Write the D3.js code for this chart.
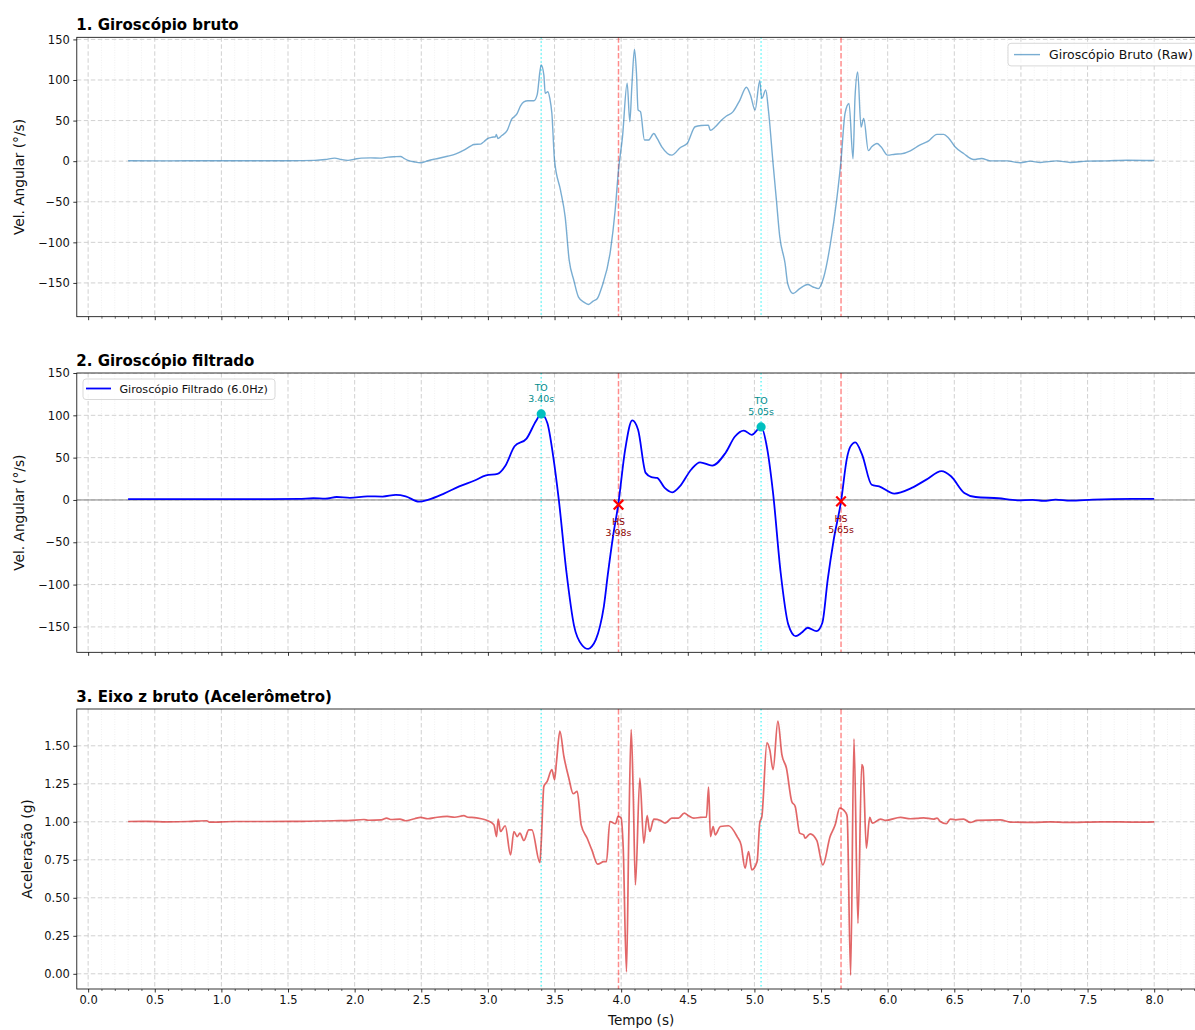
<!DOCTYPE html>
<html>
<head>
<meta charset="utf-8">
<script src="https://cdn.jsdelivr.net/npm/d3@7"></script>
<style>
  body { margin: 0; background: #fff; }
  svg { display: block; font-family: "DejaVu Sans", sans-serif; }
</style>
</head>
<body>
<svg id="chart" width="1195" height="1030"></svg>
<script>
// ---- Raw gyroscope (°/s) ----
const rawTime = [0.30,0.60,0.90,1.20,1.50,1.70,1.78,1.85,1.90,1.95,2.00,2.05,2.12,2.19,2.25,2.30,2.345,2.37,2.40,2.45,2.495,2.55,2.60,2.695,2.76,2.82,2.87,2.895,2.945,2.97,3.00,3.03,3.057,3.063,3.075,3.10,3.145,3.18,3.20,3.22,3.245,3.27,3.30,3.345,3.37,3.39,3.40,3.42,3.43,3.45,3.465,3.48,3.50,3.545,3.58,3.61,3.645,3.68,3.72,3.755,3.79,3.82,3.855,3.92,3.955,3.98,4.01,4.045,4.065,4.08,4.10,4.115,4.127,4.145,4.175,4.205,4.245,4.27,4.305,4.38,4.445,4.495,4.555,4.60,4.655,4.668,4.705,4.75,4.79,4.84,4.89,4.94,4.97,5.005,5.04,5.055,5.085,5.105,5.14,5.165,5.19,5.23,5.25,5.29,5.34,5.40,5.44,5.48,5.52,5.57,5.62,5.65,5.68,5.71,5.74,5.755,5.775,5.80,5.82,5.855,5.88,5.92,5.95,6.00,6.055,6.10,6.17,6.24,6.305,6.37,6.42,6.455,6.505,6.57,6.645,6.705,6.77,6.895,6.995,7.07,7.145,7.27,7.37,7.495,7.645,7.795,8.00];
const rawGyro = [0.5,0.4,0.6,0.5,0.6,1.0,2.0,3.8,2.0,1.0,2.5,3.8,4.0,3.7,5.0,5.5,5.8,3.5,1.0,-1.0,-2.0,0.5,2.5,6,9,13.5,18.5,20.6,21,24,28,29.5,30,33,28,31,38,52,55,59,68,73,74.5,74.5,82,110,118.5,106,83.5,85.6,77,59,1,-36,-69,-122,-147,-167.5,-173.7,-176.5,-172.4,-169.5,-155,-110,-60.5,-11,30,96,48.6,91.8,138,108,63,61,26,26,34,28,17.7,7.4,16.9,21.8,42.4,44,44.4,38,42,50,55.6,61,75,91,81.5,63,99,77,87.6,63,-3,-48,-93,-126,-151,-163,-157,-152,-155,-157,-143,-102,-44,1,59,71,3,79,110,42,52.7,13,17.7,21.8,17.7,7.4,8.6,9,12.8,19.8,24.7,33,33,29,17.7,9.5,2,3.3,0.4,0.4,-2,0,-1.6,0.4,-1.6,0,0.4,1.2,0.8];

// ---- Filtered gyroscope, 6.0 Hz (°/s) ----
const filtTime = [0.30,0.80,1.20,1.58,1.69,1.78,1.866,1.965,2.095,2.21,2.31,2.383,2.483,2.555,2.67,2.785,2.90,2.986,3.072,3.13,3.20,3.29,3.36,3.40,3.446,3.49,3.532,3.59,3.647,3.704,3.753,3.78,3.81,3.84,3.87,3.90,3.94,3.978,4.03,4.083,4.127,4.184,4.227,4.27,4.327,4.383,4.44,4.526,4.592,4.683,4.783,4.854,4.92,4.98,5.05,5.097,5.14,5.197,5.254,5.31,5.353,5.40,5.466,5.51,5.55,5.595,5.65,5.695,5.72,5.757,5.808,5.88,5.936,6.05,6.18,6.29,6.404,6.475,6.575,6.66,6.83,6.974,7.088,7.17,7.26,7.37,7.54,7.83,8.00];
const filtGyro = [1.0,1.0,1.0,1.2,2.0,1.5,3.5,2.4,4.3,4.0,6.0,4.3,-2.0,0.4,7.5,16,23,29,30.7,40,63.4,72.5,93,101.7,91,51.6,0.4,-86,-149,-171,-176,-173,-165,-150,-126,-88,-42,-5.6,59.5,94,83,32,27,26,14.2,9,16,36,44.5,40.6,55.6,75,82,77,86.3,59.5,8,-86,-147,-161,-157,-151,-155,-145,-94,-47,-1.7,50,63,68,53.6,18,16,7.5,14.2,24,34,28,8.3,3.5,2,-0.4,0,-1.2,0.4,-0.8,0.4,1.2,1.2];

// ---- Raw accelerometer, z axis (g) ----
const accTime = [0.30,0.45,0.59,0.75,0.89,0.91,1.10,1.34,1.60,1.84,1.95,2.07,2.10,2.20,2.24,2.27,2.34,2.38,2.45,2.495,2.55,2.62,2.695,2.75,2.82,2.85,2.88,2.95,2.995,3.045,3.065,3.077,3.095,3.13,3.17,3.195,3.22,3.24,3.27,3.307,3.33,3.39,3.40,3.42,3.445,3.48,3.50,3.515,3.54,3.57,3.607,3.64,3.67,3.70,3.745,3.78,3.824,3.87,3.89,3.915,3.957,3.977,4.00,4.015,4.04,4.057,4.075,4.09,4.107,4.14,4.17,4.195,4.215,4.245,4.295,4.33,4.38,4.43,4.474,4.505,4.545,4.594,4.64,4.656,4.67,4.69,4.706,4.745,4.806,4.87,4.90,4.93,4.956,4.98,5.02,5.04,5.056,5.094,5.115,5.14,5.176,5.206,5.24,5.28,5.306,5.34,5.37,5.38,5.418,5.468,5.513,5.568,5.606,5.64,5.684,5.696,5.722,5.747,5.777,5.805,5.815,5.84,5.865,5.885,5.947,5.985,6.096,6.17,6.22,6.27,6.345,6.37,6.395,6.44,6.47,6.51,6.57,6.62,6.67,6.846,6.92,7.096,7.22,7.345,7.60,7.846,8.00];
const accZ = [1.002,1.003,1.000,1.002,1.007,0.998,1.002,1.002,1.003,1.007,1.008,1.015,1.010,1.013,1.024,1.015,1.018,1.007,1.020,1.029,1.020,1.030,1.035,1.030,1.040,1.030,1.029,1.020,1.009,0.980,0.903,1.018,0.936,0.974,0.782,0.936,0.903,0.925,0.877,0.947,0.947,0.732,0.860,1.233,1.266,1.343,1.277,1.398,1.596,1.431,1.288,1.185,1.200,0.980,0.892,0.815,0.721,0.738,0.738,1.002,0.987,1.035,1.024,0.837,0.013,0.903,1.607,1.211,0.585,1.288,0.859,1.040,0.936,1.018,1.009,0.991,1.024,1.024,1.057,1.040,1.024,1.029,1.031,1.229,0.903,0.969,0.914,0.969,0.974,0.903,0.848,0.695,0.804,0.684,0.738,0.991,1.035,1.519,1.475,1.343,1.662,1.442,1.354,1.134,1.101,0.925,0.914,0.892,0.921,0.877,0.716,0.903,0.980,1.090,1.062,1.035,-0.009,1.545,0.332,1.376,1.360,0.826,1.029,0.991,1.018,1.009,1.029,1.020,1.022,1.026,1.018,1.024,1.002,0.987,1.018,1.013,1.018,0.996,1.009,1.013,0.998,0.996,1.000,0.996,1.000,0.998,1.000];

// ---- Gait events ----
const toTimes = [3.40, 5.05];      // toe-off
const toValues = [101.7, 86.3];
const hsTimes = [3.98, 5.65];      // heel strike
const hsValues = [-5.6, -1.7];

// ---- Ticks ----
const xTicks = [0.0,0.5,1.0,1.5,2.0,2.5,3.0,3.5,4.0,4.5,5.0,5.5,6.0,6.5,7.0,7.5,8.0];
const xTickLabels = ["0.0","0.5","1.0","1.5","2.0","2.5","3.0","3.5","4.0","4.5","5.0","5.5","6.0","6.5","7.0","7.5","8.0"];
const gyroTicks = [-150,-100,-50,0,50,100,150];
const gyroTickLabels = ["−150","−100","−50","0","50","100","150"];
const accTicks = [0.00,0.25,0.50,0.75,1.00,1.25,1.50];
const accTickLabels = ["0.00","0.25","0.50","0.75","1.00","1.25","1.50"];

// ---------------------------------------------------------------
const svg = d3.select("#chart");
const left = 76.8, right = 1205.5;
const x = d3.scaleLinear().domain([-0.085, 8.385]).range([left, right]);
const minorTicks = d3.range(0, 84).map(i => i / 10).filter(v => Math.abs(v * 2 - Math.round(v * 2)) > 1e-6);

const panels = [
  { title: "1. Giroscópio bruto", top: 37.3, bottom: 316.7, domain: [-191.6, 152.6],
    ticks: gyroTicks, labels: gyroTickLabels, ylabel: "Vel. Angular (°/s)", ylabelX: 19 },
  { title: "2. Giroscópio filtrado", top: 373, bottom: 652.3, domain: [-180, 150],
    ticks: gyroTicks, labels: gyroTickLabels, ylabel: "Vel. Angular (°/s)", ylabelX: 19 },
  { title: "3. Eixo z bruto (Acelerômetro)", top: 709, bottom: 989, domain: [-0.1, 1.742],
    ticks: accTicks, labels: accTickLabels, ylabel: "Aceleração (g)", ylabelX: 27 }
];

panels.forEach((p, i) => {
  p.y = d3.scaleLinear().domain(p.domain).range([p.bottom, p.top]);
  const g = svg.append("g");
  const clipId = "clip" + i;
  svg.append("clipPath").attr("id", clipId)
    .append("rect").attr("x", left).attr("y", p.top)
    .attr("width", right - left).attr("height", p.bottom - p.top);
  const plot = g.append("g").attr("clip-path", `url(#${clipId})`);

  // minor vertical grid
  plot.selectAll(".mgrid").data(minorTicks).join("line")
    .attr("x1", d => x(d)).attr("x2", d => x(d))
    .attr("y1", p.top).attr("y2", p.bottom)
    .attr("stroke", "#e6e6e6").attr("stroke-width", 0.6).attr("stroke-dasharray", "1,1.5");
  // major grid
  plot.selectAll(".vgrid").data(xTicks).join("line")
    .attr("x1", d => x(d)).attr("x2", d => x(d))
    .attr("y1", p.top).attr("y2", p.bottom)
    .attr("stroke", "#cccccc").attr("stroke-width", 0.9).attr("stroke-dasharray", "4.5,2.5");
  plot.selectAll(".hgrid").data(p.ticks).join("line")
    .attr("x1", left).attr("x2", right)
    .attr("y1", d => p.y(d)).attr("y2", d => p.y(d))
    .attr("stroke", "#cccccc").attr("stroke-width", 0.9).attr("stroke-dasharray", "4.5,2.5");

  if (i === 1) {
    plot.append("line").attr("x1", left).attr("x2", right)
      .attr("y1", p.y(0)).attr("y2", p.y(0))
      .attr("stroke", "#808080").attr("stroke-width", 1);
  }

  // event lines
  plot.selectAll(".to").data(toTimes).join("line")
    .attr("x1", d => x(d)).attr("x2", d => x(d))
    .attr("y1", p.top).attr("y2", p.bottom)
    .attr("stroke", "#00f0f0").attr("stroke-opacity", 0.6)
    .attr("stroke-width", 1.5).attr("stroke-dasharray", "1.5,2.5");
  plot.selectAll(".hs").data(hsTimes).join("line")
    .attr("x1", d => x(d)).attr("x2", d => x(d))
    .attr("y1", p.top).attr("y2", p.bottom)
    .attr("stroke", "#ff0000").attr("stroke-opacity", 0.45)
    .attr("stroke-width", 1.5).attr("stroke-dasharray", "5.5,2.4");

  p.plot = plot;
  p.g = g;
});

// data lines
function drawLine(p, ts, vs, color, opacity, width) {
  const line = d3.line().x(d => x(d[0])).y(d => p.y(d[1])).curve(d3.curveMonotoneX);
  p.plot.append("path").datum(d3.zip(ts, vs)).attr("d", line)
    .attr("fill", "none").attr("stroke", color).attr("stroke-opacity", opacity)
    .attr("stroke-width", width).attr("stroke-linejoin", "round");
}
drawLine(panels[0], rawTime, rawGyro, "#1f77b4", 0.6, 1.4);
drawLine(panels[1], filtTime, filtGyro, "#0000ff", 1, 1.8);
drawLine(panels[2], accTime, accZ, "#d62728", 0.7, 1.7);

// event markers and labels on the filtered panel
const p2 = panels[1];
p2.plot.selectAll(".tomark").data(d3.zip(toTimes, toValues)).join("circle")
  .attr("cx", d => x(d[0])).attr("cy", d => p2.y(d[1])).attr("r", 4.6).attr("fill", "#00bfbf");
p2.plot.selectAll(".hsmark").data(d3.zip(hsTimes, hsValues)).join("path")
  .attr("d", d => {
    const cx = x(d[0]), cy = p2.y(d[1]), s = 4.8;
    return `M${cx - s},${cy - s}L${cx + s},${cy + s}M${cx - s},${cy + s}L${cx + s},${cy - s}`;
  })
  .attr("stroke", "#ff0000").attr("stroke-width", 2.2).attr("fill", "none");

d3.zip(toTimes, toValues).forEach(d => {
  const t = p2.g.append("text").attr("x", x(d[0])).attr("text-anchor", "middle")
    .attr("font-size", 9.4).attr("fill", "#008b8b");
  t.append("tspan").attr("x", x(d[0])).attr("y", p2.y(d[1]) - 22.6).text("TO");
  t.append("tspan").attr("x", x(d[0])).attr("y", p2.y(d[1]) - 11.8).text(d[0].toFixed(2) + "s");
});
d3.zip(hsTimes, hsValues).forEach(d => {
  const t = p2.g.append("text").attr("x", x(d[0])).attr("text-anchor", "middle")
    .attr("font-size", 9.4).attr("fill", "#8b0000");
  t.append("tspan").attr("x", x(d[0])).attr("y", p2.y(d[1]) + 20.7).text("HS");
  t.append("tspan").attr("x", x(d[0])).attr("y", p2.y(d[1]) + 31.4).text(d[0].toFixed(2) + "s");
});

// axes, spines, titles
panels.forEach((p, i) => {
  const g = p.g;
  g.append("rect").attr("x", left).attr("y", p.top)
    .attr("width", right - left).attr("height", p.bottom - p.top)
    .attr("fill", "none").attr("stroke", "#000").attr("stroke-width", 0.8);

  const xAxis = d3.axisBottom(x).tickValues(xTicks).tickSize(3.5).tickPadding(3.5)
    .tickFormat((d, k) => i === 2 ? xTickLabels[k] : "");
  const xa = g.append("g").attr("transform", `translate(0,${p.bottom})`).call(xAxis);
  xa.select(".domain").remove();
  xa.selectAll("line").attr("stroke", "#000").attr("stroke-width", 0.8);
  xa.selectAll("text").attr("font-size", 11.5).attr("font-family", "DejaVu Sans").attr("fill", "#111");

  const xMinor = d3.axisBottom(x).tickValues(minorTicks).tickSize(2).tickFormat("");
  const xm = g.append("g").attr("transform", `translate(0,${p.bottom})`).call(xMinor);
  xm.select(".domain").remove();
  xm.selectAll("line").attr("stroke", "#000").attr("stroke-width", 0.6);

  const yAxis = d3.axisLeft(p.y).tickValues(p.ticks).tickSize(3.5).tickPadding(3.5)
    .tickFormat((d, k) => p.labels[k]);
  const ya = g.append("g").attr("transform", `translate(${left},0)`).call(yAxis);
  ya.select(".domain").remove();
  ya.selectAll("line").attr("stroke", "#000").attr("stroke-width", 0.8);
  ya.selectAll("text").attr("font-size", 11.5).attr("font-family", "DejaVu Sans").attr("fill", "#111");

  g.append("text").attr("x", left - 0.5).attr("y", p.top - 7.3)
    .attr("font-size", 15).attr("font-weight", "bold").attr("fill", "#000").text(p.title);

  g.append("text")
    .attr("transform", `translate(${p.ylabelX},${(p.top + p.bottom) / 2}) rotate(-90)`)
    .attr("text-anchor", "middle").attr("dy", "0.35em")
    .attr("font-size", 13.7).attr("fill", "#111").text(p.ylabel);
});

svg.append("text").attr("x", (left + right) / 2).attr("y", 1024.5)
  .attr("text-anchor", "middle").attr("font-size", 13.5).attr("fill", "#111").text("Tempo (s)");

// legends
const lg1 = svg.append("g");
lg1.append("rect").attr("x", 1008).attr("y", 43.3).attr("width", 192).attr("height", 22.6).attr("rx", 3)
  .attr("fill", "#fff").attr("fill-opacity", 0.8).attr("stroke", "#d5d5d5").attr("stroke-width", 0.9);
lg1.append("line").attr("x1", 1014).attr("x2", 1040).attr("y1", 54.6).attr("y2", 54.6)
  .attr("stroke", "#1f77b4").attr("stroke-opacity", 0.6).attr("stroke-width", 1.4);
lg1.append("text").attr("x", 1049).attr("y", 59).attr("font-size", 12.5).attr("fill", "#111")
  .text("Giroscópio Bruto (Raw)");

const lg2 = svg.append("g");
lg2.append("rect").attr("x", 83).attr("y", 379).attr("width", 192).attr("height", 20.5).attr("rx", 3)
  .attr("fill", "#fff").attr("fill-opacity", 0.8).attr("stroke", "#d5d5d5").attr("stroke-width", 0.9);
lg2.append("line").attr("x1", 86).attr("x2", 111).attr("y1", 388.5).attr("y2", 388.5)
  .attr("stroke", "#0000ff").attr("stroke-width", 1.8);
lg2.append("text").attr("x", 119.4).attr("y", 392.5).attr("font-size", 11.2).attr("fill", "#111")
  .text("Giroscópio Filtrado (6.0Hz)");
</script>
</body>
</html>
